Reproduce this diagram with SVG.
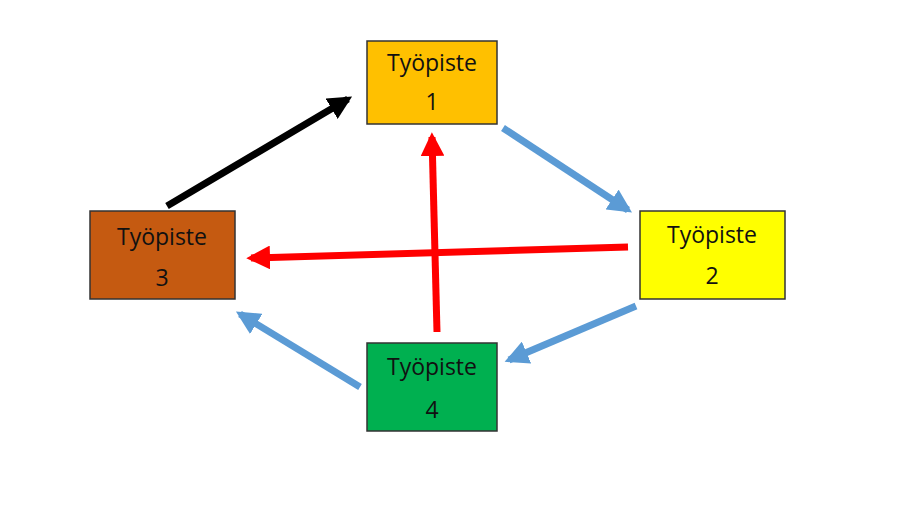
<svg xmlns="http://www.w3.org/2000/svg" width="908" height="511" viewBox="0 0 908 511">
<style>
.box{stroke:#333;stroke-width:1.5}
.t{font-family:"Open Sans","Liberation Sans",sans-serif;font-size:23px;fill:#111;text-anchor:middle}
.c{fill:none;stroke-width:7}
</style>
<defs>
<marker id="hk" viewBox="0 0 10 10" refX="8" refY="5" markerWidth="3.4" markerHeight="3.4" orient="auto"><path d="M0,0L10,5L0,10z" fill="#000"/></marker>
<marker id="hb" viewBox="0 0 10 10" refX="8" refY="5" markerWidth="3.4" markerHeight="3.4" orient="auto"><path d="M0,0L10,5L0,10z" fill="#5B9BD5"/></marker>
<marker id="hr" viewBox="0 0 10 10" refX="8" refY="5" markerWidth="3.4" markerHeight="3.4" orient="auto"><path d="M0,0L10,5L0,10z" fill="#FF0000"/></marker>
</defs>
<rect width="908" height="511" fill="#fff"/>
<g id="connectors">
<line class="c" stroke="#000" x1="167" y1="206" x2="348" y2="99" marker-end="url(#hk)"/>
<line class="c" stroke="#5B9BD5" x1="503" y1="128" x2="628" y2="210" marker-end="url(#hb)"/>
<line class="c" stroke="#5B9BD5" x1="636" y1="306" x2="509" y2="360" marker-end="url(#hb)"/>
<line class="c" stroke="#5B9BD5" x1="360" y1="387" x2="240" y2="314" marker-end="url(#hb)"/>
<line class="c" stroke="#FF0000" x1="628" y1="247" x2="251" y2="258" marker-end="url(#hr)"/>
<line class="c" stroke="#FF0000" x1="437" y1="332" x2="432" y2="137" marker-end="url(#hr)"/>
</g>
<g id="n1"><rect class="box" x="367" y="41" width="130" height="83" fill="#FFC000"/><text class="t" x="432" y="71">Työpiste</text><text class="t" x="432" y="110">1</text></g>
<g id="n2"><rect class="box" x="640" y="211" width="145" height="88" fill="#FFFF00"/><text class="t" x="712" y="243">Työpiste</text><text class="t" x="712" y="284">2</text></g>
<g id="n3"><rect class="box" x="90" y="211" width="145" height="88" fill="#C55A11"/><text class="t" x="162" y="245">Työpiste</text><text class="t" x="162" y="286">3</text></g>
<g id="n4"><rect class="box" x="367" y="343" width="130" height="88" fill="#00B050"/><text class="t" x="432" y="375">Työpiste</text><text class="t" x="432" y="418">4</text></g>
</svg>
